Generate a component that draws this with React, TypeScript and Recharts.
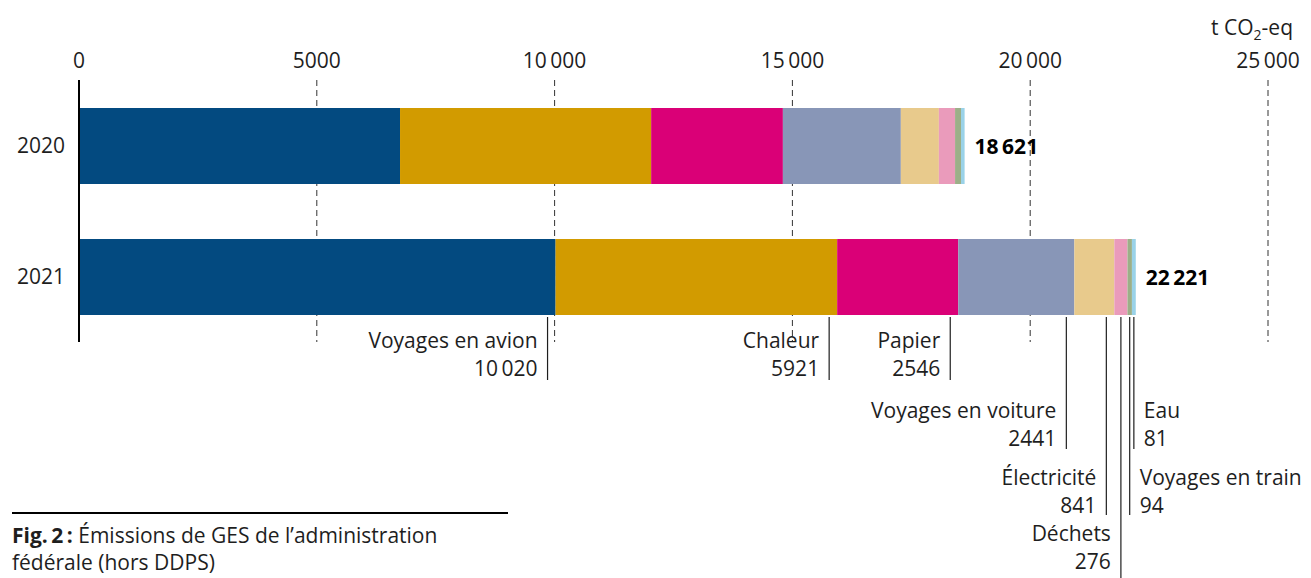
import { BarChart, Bar, XAxis, YAxis, CartesianGrid, LabelList } from "recharts";

const years = ["2020", "2021"];

const categories = [
  "Voyages en avion",
  "Chaleur",
  "Papier",
  "Voyages en voiture",
  "Électricité",
  "Déchets",
  "Voyages en train",
  "Eau",
];

const values2020 = [6750, 5280, 2770, 2480, 800, 340, 125, 76];
const values2021 = [10020, 5921, 2546, 2441, 841, 276, 94, 81];

const totals = [18621, 22221];

const xTicks = [0, 5000, 10000, 15000, 20000, 25000];

const COLORS = [
  "#034a80",
  "#d29b00",
  "#da0077",
  "#8896b7",
  "#e8ca8c",
  "#ea9bbb",
  "#9caf88",
  "#9ad2e8",
];

// how far down each 2021 label hangs, and on which side of its leader line
const LEVELS = [0, 0, 0, 1, 2, 3, 2, 1];
const SIDES = ["left", "left", "left", "left", "left", "left", "right", "right"];
const LEVEL_TEXT = [25, 95, 162, 218];
const LEVEL_END = [65, 134, 200, 265];

const FONT = "'Open Sans', 'Noto Sans', sans-serif";
const INK = "#1e1e1e";

const fmt = (n: number) =>
  n < 10000 ? String(n) : String(n).replace(/\B(?=(\d{3})+(?!\d))/g, "\u2009");

const data = years.map((year, i) => {
  const vals = i === 0 ? values2020 : values2021;
  const row: Record<string, string | number> = { year, total: totals[i] };
  vals.forEach((v, k) => {
    row[`c${k}`] = v;
  });
  return row;
});

function segmentLabel(k: number) {
  return (props: any) => {
    const { x, y, width, height, index } = props;
    if (index !== 1) return null;
    const lx = x + width - Math.min(8, width / 2);
    const lvl = LEVELS[k];
    const bottom = y + height;
    const right = SIDES[k] === "right";
    const tx = right ? lx + 10 : lx - 10;
    const anchor = right ? "start" : "end";
    const ty = bottom + LEVEL_TEXT[lvl];
    return (
      <g>
        <line
          x1={lx}
          x2={lx}
          y1={bottom + 2}
          y2={bottom + LEVEL_END[lvl]}
          stroke={INK}
          strokeWidth={1.2}
        />
        <text
          x={tx}
          y={ty}
          textAnchor={anchor}
          dominantBaseline="central"
          fontSize={21}
          fill={INK}
          fontFamily={FONT}
        >
          {categories[k]}
        </text>
        <text
          x={tx}
          y={ty + 28}
          textAnchor={anchor}
          dominantBaseline="central"
          fontSize={21}
          fill={INK}
          fontFamily={FONT}
        >
          {fmt(values2021[k])}
        </text>
      </g>
    );
  };
}

function totalLabel(props: any) {
  const { x, y, width, height, index } = props;
  return (
    <text
      x={x + width + 10}
      y={y + height / 2}
      dominantBaseline="central"
      fontSize={21}
      fontWeight={700}
      fill="#000"
      fontFamily={FONT}
    >
      {fmt(totals[index])}
    </text>
  );
}

export default function App() {
  return (
    <div
      style={{
        position: "absolute",
        left: 0,
        top: 0,
        width: 1311,
        height: 578,
        background: "#fff",
        fontFamily: FONT,
        color: INK,
      }}
    >
      <BarChart
        width={1311}
        height={578}
        data={data}
        layout="vertical"
        margin={{ top: 50, right: 43, bottom: 236, left: 0 }}
        barSize={76}
      >
        <CartesianGrid
          horizontal={false}
          strokeDasharray="6 4"
          stroke="#333"
        />
        <XAxis
          type="number"
          orientation="top"
          domain={[0, 25000]}
          ticks={xTicks}
          tickFormatter={fmt}
          axisLine={false}
          tickLine={false}
          tickSize={0}
          tickMargin={12}
          height={30}
          tick={{ fontSize: 21, fill: INK, fontFamily: FONT }}
        />
        <YAxis
          type="category"
          dataKey="year"
          width={79}
          axisLine={{ stroke: "#000", strokeWidth: 2 }}
          tickLine={false}
          tickSize={0}
          tickMargin={14}
          tick={{ fontSize: 21, fill: INK, fontFamily: FONT }}
        />
        {categories.map((name, k) => (
          <Bar
            key={name}
            dataKey={`c${k}`}
            name={name}
            stackId="a"
            fill={COLORS[k]}
            isAnimationActive={false}
          >
            <LabelList content={segmentLabel(k)} />
            {k === categories.length - 1 && <LabelList content={totalLabel} />}
          </Bar>
        ))}
      </BarChart>

      <div
        style={{
          position: "absolute",
          right: 18,
          top: 12,
          fontSize: 21,
          lineHeight: "30px",
        }}
      >
        t CO<sub style={{ fontSize: 14, verticalAlign: "-5px" }}>2</sub>-eq
      </div>

      <div
        style={{
          position: "absolute",
          left: 12,
          top: 512,
          width: 496,
          borderTop: "2px solid #000",
        }}
      />
      <div
        style={{
          position: "absolute",
          left: 12,
          top: 522,
          fontSize: 21,
          lineHeight: "27px",
        }}
      >
        <b>Fig.&#8201;2&#8201;:</b> Émissions de GES de l’administration
        <br />
        fédérale (hors DDPS)
      </div>
    </div>
  );
}
